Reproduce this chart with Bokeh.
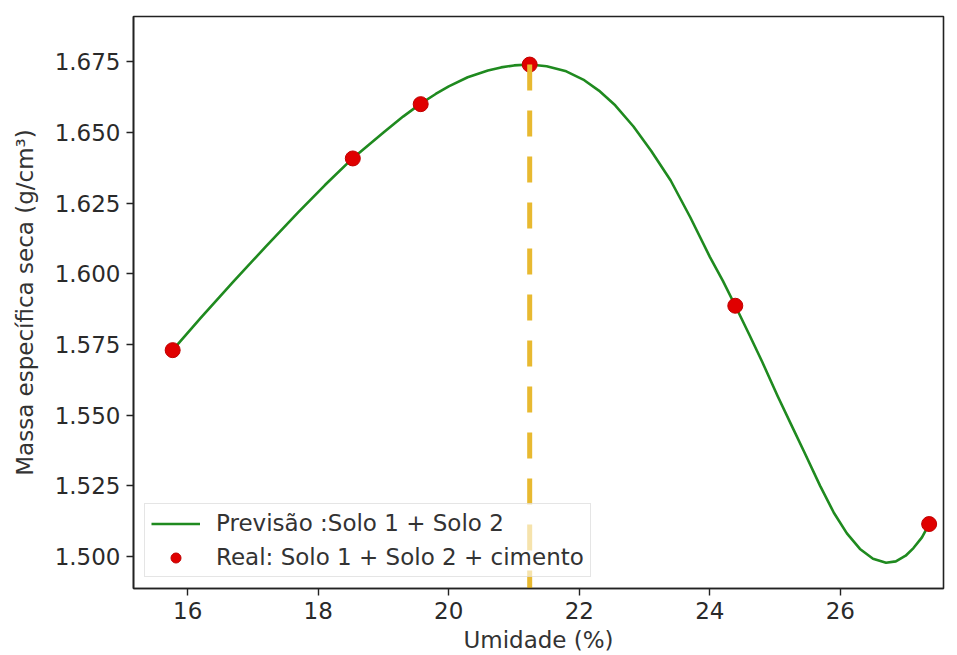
from bokeh.plotting import figure
from bokeh.models import Range1d, FixedTicker, NumeralTickFormatter, Legend, LegendItem
from bokeh.embed import file_html
from bokeh.resources import INLINE

# Measured points (Real: Solo 1 + Solo 2 + cimento)
umidade_real = [15.77, 18.53, 19.57, 21.24, 24.39, 27.36]
massa_real = [1.573, 1.6408, 1.660, 1.674, 1.5887, 1.5115]

# Prediction curve (Previsão :Solo 1 + Solo 2)
umidade_prev = [15.77, 16.2, 16.7, 17.2, 17.7, 18.1, 18.53, 19.0, 19.3, 19.57, 19.8, 20.0,
                20.29, 20.6, 20.8, 21.0, 21.24, 21.5, 21.8, 22.06, 22.3, 22.55, 22.83, 23.1,
                23.4, 23.7, 24.0, 24.2, 24.39, 24.6, 24.8, 25.04, 25.25, 25.45, 25.69, 25.9,
                26.1, 26.3, 26.5, 26.7, 26.85, 27.0, 27.12, 27.25, 27.36]
massa_prev = [1.5730, 1.5844, 1.5972, 1.6097, 1.6219, 1.6313, 1.6409, 1.6500, 1.6556, 1.6602,
              1.6636, 1.6663, 1.6695, 1.6719, 1.6730, 1.6737, 1.6740, 1.6734, 1.6716, 1.6687,
              1.6648, 1.6596, 1.6521, 1.6435, 1.6330, 1.6200, 1.6060, 1.5975, 1.5887, 1.5787,
              1.5690, 1.5567, 1.5465, 1.5368, 1.5250, 1.5155, 1.5082, 1.5027, 1.4992, 1.4978,
              1.4983, 1.5003, 1.5030, 1.5068, 1.5115]

# Optimum moisture marker
x_otimo = [21.24, 21.24]
y_otimo = [1.674, 1.4885]

x_ticks = [16, 18, 20, 22, 24, 26]
y_ticks = [1.500, 1.525, 1.550, 1.575, 1.600, 1.625, 1.650, 1.675]

FONT = "DejaVu Sans"
FS = "23px"

p = figure(width=957, height=655, output_backend="svg", toolbar_location=None,
           x_range=Range1d(15.17, 27.58), y_range=Range1d(1.4887, 1.691),
           min_border_left=133, min_border_right=14, min_border_top=16, min_border_bottom=65)
p.background_fill_color = "white"
p.border_fill_color = "white"
p.outline_line_color = "#222222"
p.outline_line_width = 1.6
p.grid.visible = False

curve = p.line(umidade_prev, massa_prev, line_color="#1f8a1f", line_width=2.6, line_join="round")
pts = p.scatter(umidade_real, massa_real, size=15, fill_color="#e00000", line_color="#c00000")
p.line(x_otimo, y_otimo, line_color="#e8b930", line_width=5, line_dash="26 20")

for ax in (p.xaxis[0], p.yaxis[0]):
    ax.axis_line_color = "#222222"
    ax.axis_line_width = 1.6
    ax.major_tick_line_color = "#222222"
    ax.major_tick_line_width = 1.4
    ax.major_tick_out = 7
    ax.major_tick_in = 0
    ax.minor_tick_line_color = None
    ax.major_label_text_font = FONT
    ax.major_label_text_font_size = FS
    ax.major_label_text_color = "#2a2a2a"
    ax.major_label_standoff = 6
    ax.axis_label_text_font = FONT
    ax.axis_label_text_font_size = FS
    ax.axis_label_text_font_style = "normal"
    ax.axis_label_text_color = "#333333"

p.xaxis.ticker = FixedTicker(ticks=x_ticks)
p.yaxis.ticker = FixedTicker(ticks=y_ticks)
p.yaxis.formatter = NumeralTickFormatter(format="0.000")
p.xaxis.axis_label = "Umidade (%)"
p.yaxis.axis_label = "Massa específica seca (g/cm³)"
p.xaxis.axis_label_standoff = 5
p.yaxis.axis_label_standoff = 14

legend = Legend(items=[LegendItem(label="Previsão :Solo 1 + Solo 2", renderers=[curve]),
                       LegendItem(label="Real: Solo 1 + Solo 2 + cimento", renderers=[pts])],
                location=(11, 11))
legend.label_text_font = FONT
legend.label_text_font_size = FS
legend.label_text_color = "#333333"
legend.border_line_color = "#cccccc"
legend.border_line_width = 1.2
legend.background_fill_alpha = 0.6
legend.padding = 6
legend.spacing = 8
legend.glyph_width = 49
legend.glyph_height = 25
legend.label_height = 25
legend.label_standoff = 16
legend.margin = 0
p.add_layout(legend, "center")

open("out.html", "w").write(file_html(p, INLINE))
